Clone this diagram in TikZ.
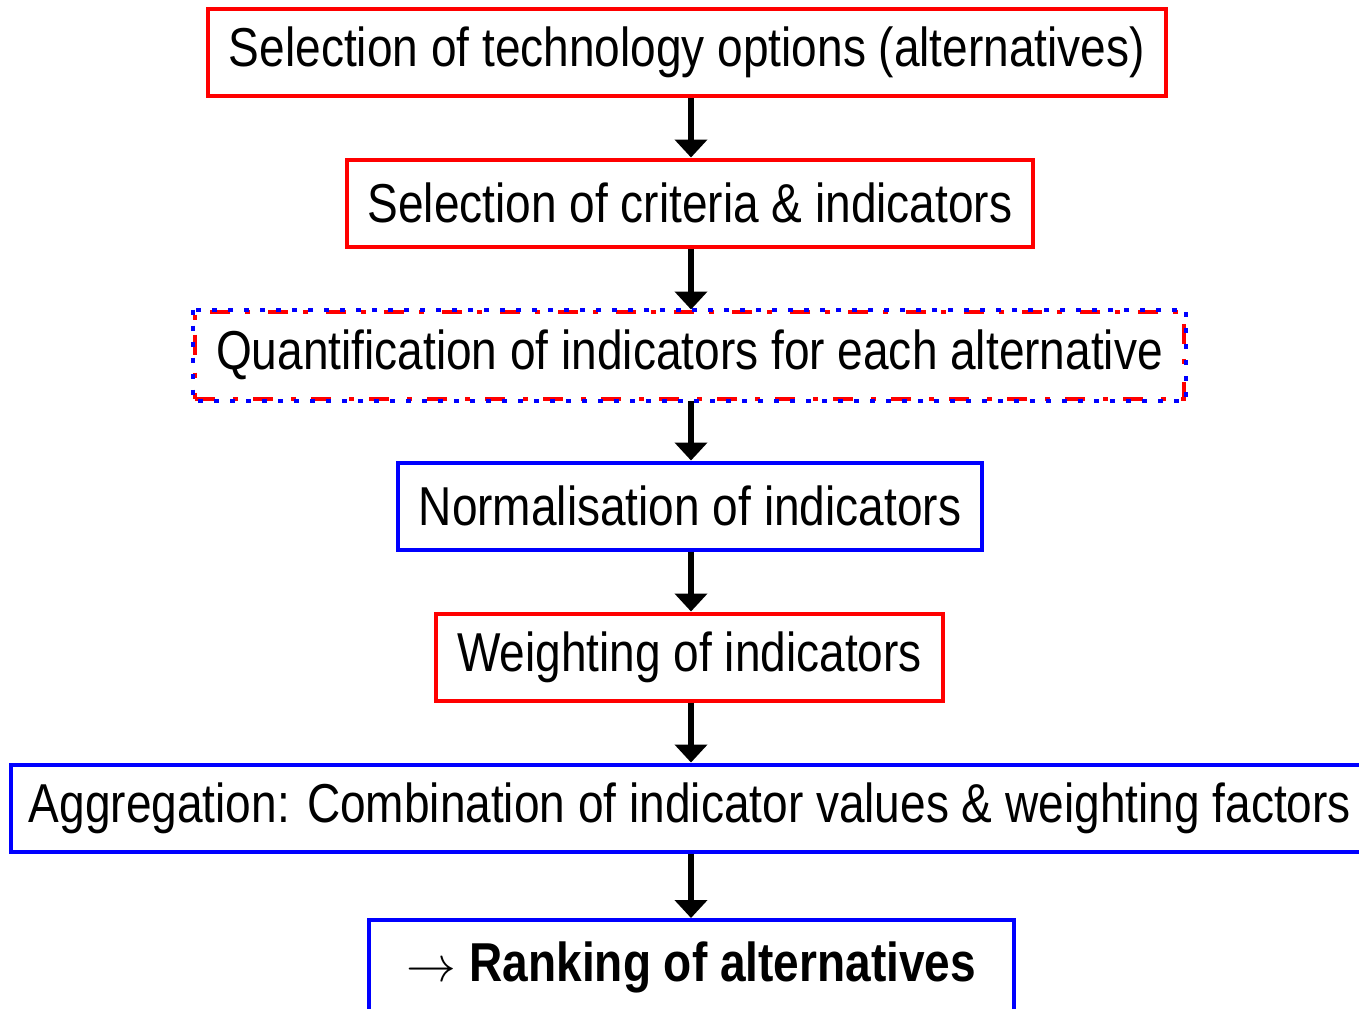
\documentclass[tikz,border=0pt]{standalone}
\usepackage{fontspec}
\setmainfont[FakeStretch=0.84]{Liberation Sans}
\usetikzlibrary{arrows.meta}
\begin{document}
\begin{tikzpicture}[x=0.5pt,y=-0.5pt,
        caja/.style={draw,line width=2pt,minimum height=43.5pt,inner sep=0pt,
            font=\fontsize{27.4}{32}\selectfont},
        roja/.style={caja,draw=red},
        azul/.style={caja,draw=blue},
        flecha/.style={line width=3pt,-{Triangle[width=16pt,length=9pt]}}]
        \useasboundingbox (0,0) rectangle (1359,1008);
        %Cajas del proceso
        \node[roja,minimum width=479pt] (opciones) at (687,52.5) {Selection of technology options (alternatives)};
        \node[roja,minimum width=343pt] (criterios) at (690,203) {Selection of criteria \& indicators};
        \node[caja,draw=red,dash pattern=on 10pt off 9pt on 2.5pt off 7.5pt,minimum width=494.5pt] (cuantif) at (689.5,355) {Quantification of indicators for each alternative};
        \draw[blue,line width=2pt,dash pattern=on 2.5pt off 5.5pt] (cuantif.north west) rectangle (cuantif.south east);
        \node[azul,minimum width=292pt] (normal) at (690,506) {Normalisation of indicators};
        \node[roja,minimum width=253.5pt] (pesos) at (689.5,657) {Weighting of indicators};
        \node[azul,minimum width=679pt] (agreg) at (690,808) {Aggregation: Combination of indicator values \& weighting factors};
        \node[azul,minimum width=322.5pt,minimum height=47pt] (ranking) at (691.5,967) {$\rightarrow$ \textbf{Ranking of alternatives}};
        %Flechas
        \foreach \a/\b in {opciones/criterios,criterios/cuantif,cuantif/normal,normal/pesos,pesos/agreg,agreg/ranking}
        \draw[flecha] (\a.south -| 691,0) -- (\b.north -| 691,0);
    \end{tikzpicture}
\end{document}
